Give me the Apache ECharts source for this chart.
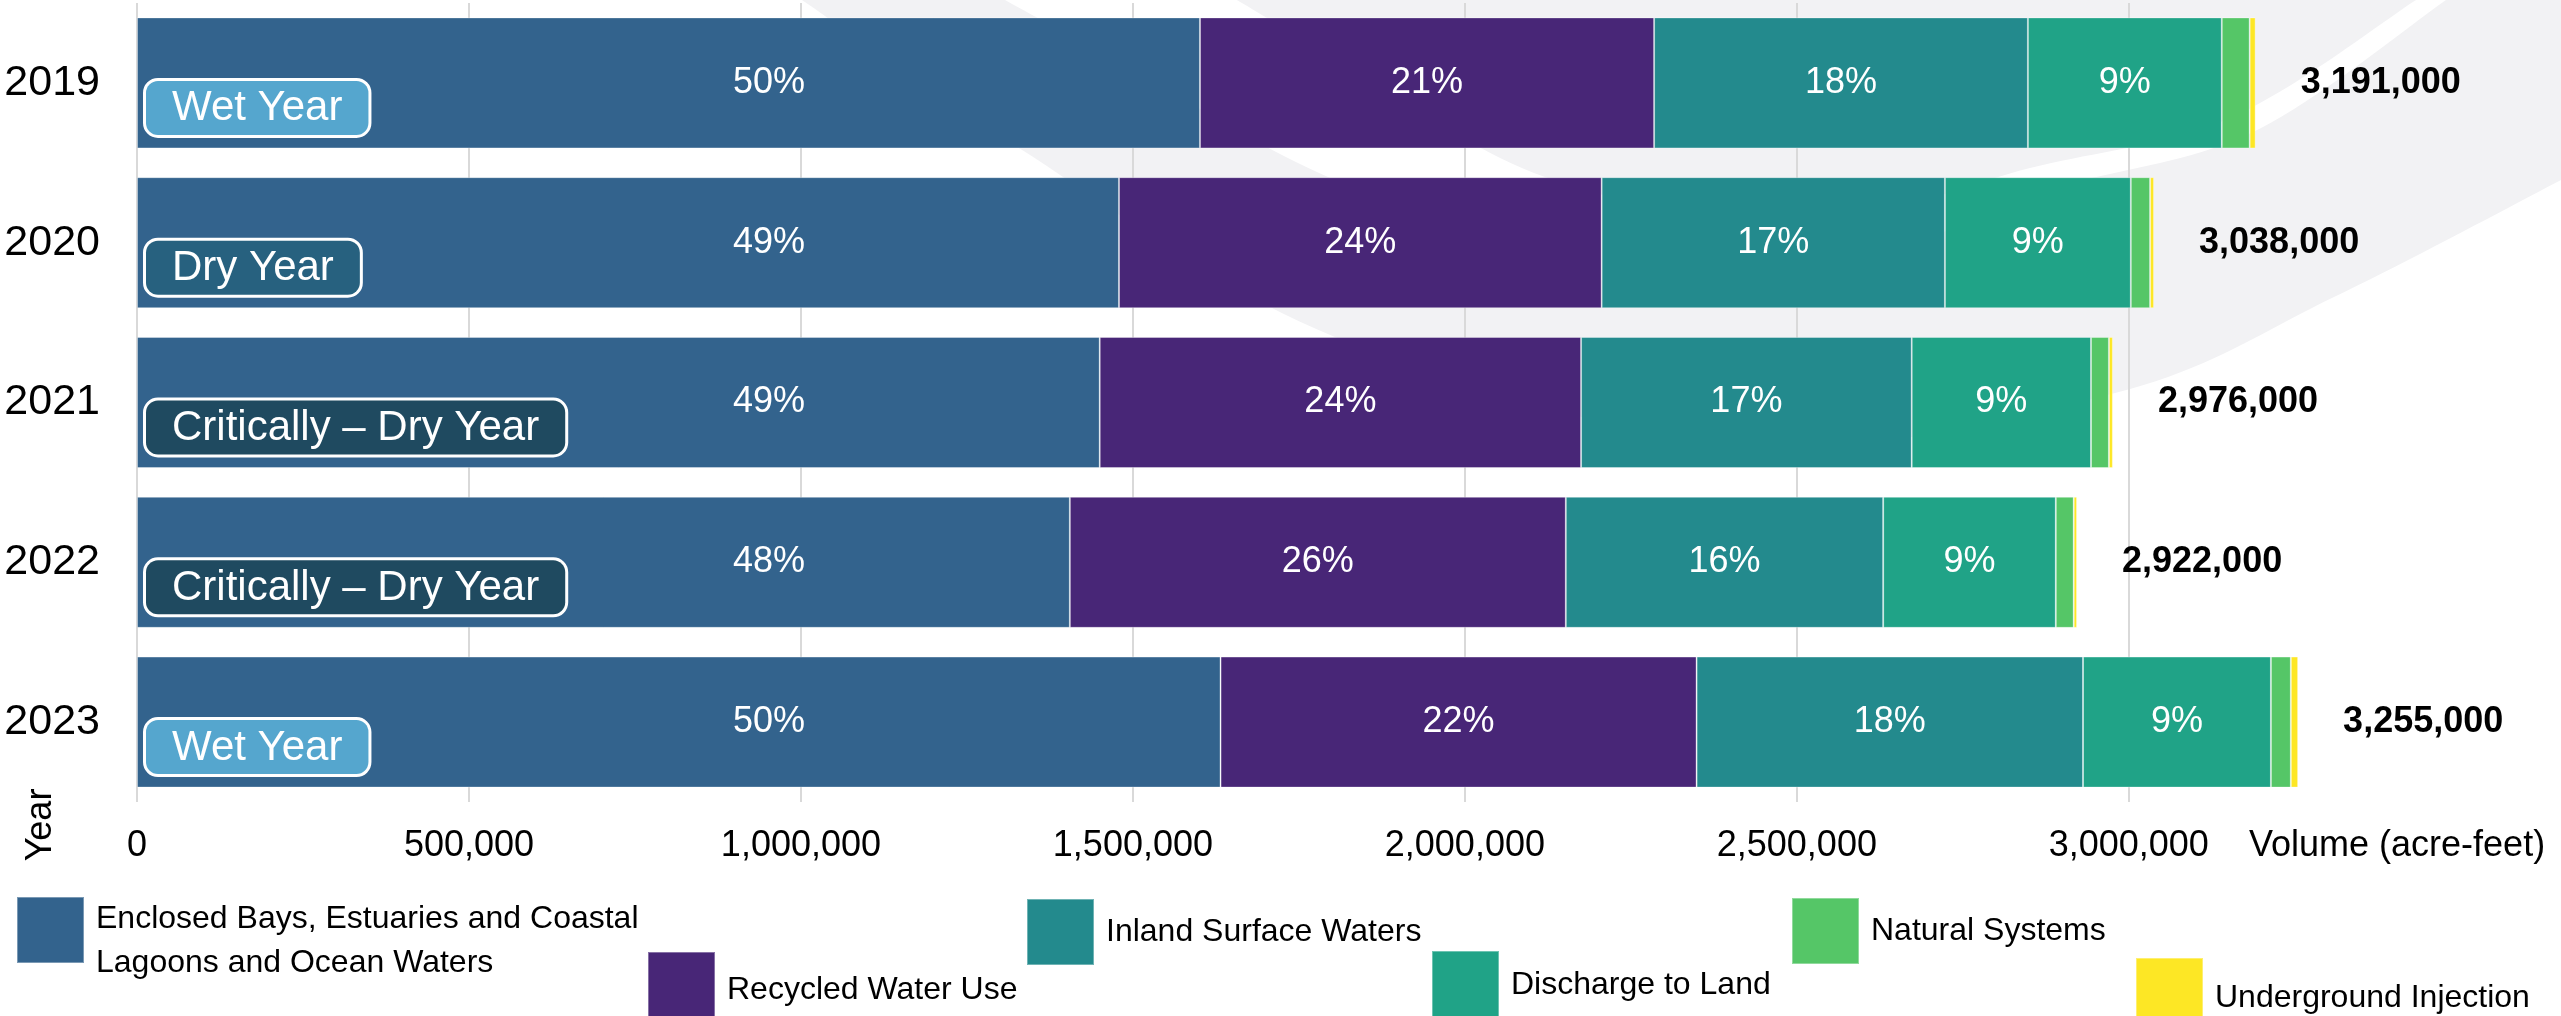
<!DOCTYPE html>
<html>
<head>
<meta charset="utf-8">
<script src="https://cdn.jsdelivr.net/npm/echarts@6/dist/echarts.min.js"></script>
<style>
  html, body { margin: 0; padding: 0; background: #ffffff; }
  #chart { width: 2561px; height: 1016px; }
</style>
</head>
<body>
<div id="chart"></div>
<script>
// ---- Data ----
const years = ['2019', '2020', '2021', '2022', '2023'];
const yearTypes = ['Wet Year', 'Dry Year', 'Critically – Dry Year', 'Critically – Dry Year', 'Wet Year'];
const seriesNames = [
  'Enclosed Bays, Estuaries and Coastal Lagoons and Ocean Waters',
  'Recycled Water Use',
  'Inland Surface Waters',
  'Discharge to Land',
  'Natural Systems',
  'Underground Injection'
];
const enclosedBays = [1601000, 1479000, 1450000, 1405000, 1632000];
const recycledWater = [684000, 727000, 725000, 747000, 717000];
const inlandSurface = [563000, 517000, 498000, 478000, 582000];
const dischargeLand = [292000, 280000, 270000, 260000, 283000];
const naturalSystems = [42000, 29000, 27000, 27000, 30000];
const undergroundInjection = [9000, 6000, 6000, 5000, 11000];
const totals = [3191000, 3038000, 2976000, 2922000, 3255000];
const xMin = 0, xMax = 3300000, xStep = 500000;

// ---- Styles ----
const FONT = "'Liberation Sans', Arial, sans-serif";
const colors = ['#33638D', '#482677', '#238A8D', '#20A387', '#55C667', '#FDE725'];
const badgeStyles = {
  'Wet Year': { key: 'wet', bg: '#55A6CE' },
  'Dry Year': { key: 'dry', bg: '#27617F' },
  'Critically – Dry Year': { key: 'crit', bg: '#1F4A60' }
};
const seriesValues = [enclosedBays, recycledWater, inlandSurface, dischargeLand, naturalSystems, undergroundInjection];

function richBadge(bg) {
  return {
    fontSize: 42, fontFamily: FONT, color: '#ffffff',
    backgroundColor: bg, borderColor: '#ffffff', borderWidth: 3, borderRadius: 12,
    padding: [7, 26, 5, 26], lineHeight: 46, textBorderWidth: 0, opacity: 1
  };
}
const rich = {};
Object.keys(badgeStyles).forEach(k => { rich[badgeStyles[k].key] = richBadge(badgeStyles[k].bg); });

const barSeries = seriesNames.map((name, si) => {
  const s = {
    name: name,
    type: 'bar',
    stack: 'total',
    barCategoryGap: '18%',
    data: seriesValues[si],
    itemStyle: { color: colors[si], borderColor: 'rgba(255,255,255,0.35)', borderWidth: 1 },
    emphasis: { disabled: true },
    label: { show: false }
  };
  if (si < 4) {
    s.label = {
      show: true, position: 'inside', color: '#ffffff', fontSize: 36, fontFamily: FONT,
      textBorderWidth: 0,
      formatter: p => Math.round(p.value / totals[p.dataIndex] * 100) + '%'
    };
    if (si === 0) { s.label.position = 'insideLeft'; s.label.distance = 0; s.label.offset = [596, 0]; }
  }
  if (si === 5) {
    s.label = {
      show: true, position: 'right', distance: 45, color: '#000000', fontSize: 36,
      fontWeight: 'bold', fontFamily: FONT,
      formatter: p => totals[p.dataIndex].toLocaleString('en-US')
    };
  }
  return s;
});

const badgeSeries = {
  name: 'Year type',
  type: 'scatter',
  symbolSize: 0,
  silent: true,
  z: 10,
  itemStyle: { opacity: 1 },
  emphasis: { disabled: true },
  data: years.map((y, i) => [0, y]),
  label: {
    show: true, position: 'right', distance: 9, offset: [0, 25],
    color: '#ffffff', textBorderWidth: 0, opacity: 1,
    formatter: p => {
      const t = yearTypes[p.dataIndex];
      return '{' + badgeStyles[t].key + '|' + t + '}';
    },
    rich: rich
  }
};

// One legend per entry, placed like the reference's staggered key
function legendAt(name, left, top, shift) {
  const lines = name === seriesNames[0]
    ? ['Enclosed Bays, Estuaries and Coastal', 'Lagoons and Ocean Waters'] : [name];
  return {
    data: [name], left: left, top: top, padding: 0, orient: 'horizontal',
    itemWidth: 67, itemHeight: 66, icon: 'rect', selectedMode: false,
    textStyle: {
      fontSize: 32, fontFamily: FONT, color: '#000000', lineHeight: 44, padding: [0, 0, 0, 7],
      rich: {
        gap: { fontSize: 1, lineHeight: shift * 2 },
        t: { fontSize: 32, fontFamily: FONT, color: '#000000', lineHeight: 44 }
      }
    },
    formatter: () => (shift > 0 ? '{gap| }\n' : '') + lines.map(l => '{t|' + l + '}').join('\n')
  };
}

// Decorative background swoosh (Catmull-Rom through guide points)
function spline(pts, n) {
  const out = [];
  for (let i = 0; i < pts.length - 1; i++) {
    const p0 = pts[Math.max(i - 1, 0)], p1 = pts[i], p2 = pts[i + 1], p3 = pts[Math.min(i + 2, pts.length - 1)];
    for (let k = 0; k < n; k++) {
      const t = k / n, t2 = t * t, t3 = t2 * t;
      const f = (a, b, c, d) => 0.5 * (2 * b + (-a + c) * t + (2 * a - 5 * b + 4 * c - d) * t2 + (-a + 3 * b - 3 * c + d) * t3);
      out.push([f(p0[0], p1[0], p2[0], p3[0]), f(p0[1], p1[1], p2[1], p3[1])]);
    }
  }
  out.push(pts[pts.length - 1]);
  return out;
}
const grayOuter = spline([[802, 0], [1019, 148], [1335, 337], [1750, 445], [2115, 393], [2334, 297], [2561, 180]], 20);
const swooshGray = [[2561, 0]].concat(grayOuter.slice().reverse()).concat([[802, 0]]);
const whiteOuter = spline([[1005, 0], [1150, 80], [1328, 177], [1600, 280], [1850, 262], [2048, 190], [2251, 133], [2446, 0]], 20);
const whiteInner = spline([[1237, 0], [1355, 70], [1545, 177], [1800, 225], [2030, 168], [2230, 118], [2416, 0]], 20);
const swooshWhite = whiteOuter.concat(whiteInner.slice().reverse());

const option = {
  backgroundColor: '#ffffff',
  animation: false,
  grid: { left: 137, right: 233, top: 3, bottom: 214, containLabel: false },
  xAxis: {
    type: 'value', min: xMin, max: xMax, interval: xStep,
    axisLine: { show: false }, axisTick: { show: false },
    splitLine: { show: true, showMaxLine: false, lineStyle: { color: '#d9d9d9', width: 2 } },
    axisLabel: {
      showMaxLabel: false, fontSize: 36, color: '#000000', fontFamily: FONT, margin: 26,
      formatter: v => (v % xStep === 0 ? v.toLocaleString('en-US') : '')
    },
    name: 'Volume (acre-feet)', nameLocation: 'end', nameGap: -79,
    nameTextStyle: { fontSize: 36, color: '#000000', fontFamily: FONT, verticalAlign: 'top', align: 'left', padding: [26, 0, 0, 0] }
  },
  yAxis: {
    type: 'category', data: years, inverse: true,
    axisLine: { show: false }, axisTick: { show: false }, splitLine: { show: false },
    axisLabel: { fontSize: 43, color: '#000000', fontFamily: FONT, margin: 37 }
  },
  legend: [
    legendAt(seriesNames[0], 16, 875, 11),
    legendAt(seriesNames[1], 647, 951, 5),
    legendAt(seriesNames[2], 1026, 898, 0),
    legendAt(seriesNames[3], 1431, 950, 1),
    legendAt(seriesNames[4], 1791, 897, 0),
    legendAt(seriesNames[5], 2135, 957, 7)
  ],
  graphic: [
    { type: 'polygon', z: -10, silent: true, shape: { points: swooshGray }, style: { fill: '#f2f2f4' } },
    { type: 'polygon', z: -9, silent: true, shape: { points: swooshWhite }, style: { fill: '#ffffff' } },
    { type: 'text', x: 41, y: 825, rotation: Math.PI / 2, silent: true,
      style: { text: 'Year', fontSize: 36, fontFamily: FONT, fill: '#000000', align: 'center', verticalAlign: 'middle' } }
  ],
  series: barSeries.concat([badgeSeries])
};

const chart = echarts.init(document.getElementById('chart'), null, { renderer: 'canvas' });
chart.setOption(option);
</script>
</body>
</html>
